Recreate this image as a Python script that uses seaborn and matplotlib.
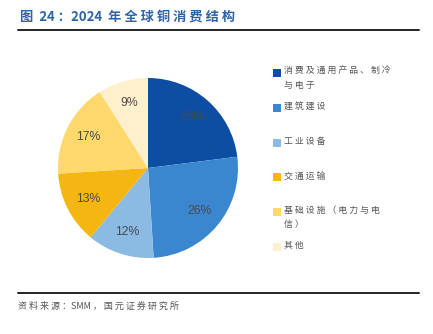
import matplotlib
matplotlib.use("Agg")
import matplotlib.pyplot as plt
from matplotlib.patches import Rectangle
from matplotlib.lines import Line2D
import seaborn as sns

sns.set_theme(style="white")
plt.rcParams['font.family'] = ['Noto Sans CJK SC', 'DejaVu Sans']

# 2024 global copper consumption by end use (%)
categories = ["消费及通用产品、制冷\n与电子", "建筑建设", "工业设备", "交通运输",
              "基础设施（电力与电\n信）", "其他"]
shares = [23, 26, 12, 13, 17, 9]
colors = ["#0d4ea3", "#3a87d0", "#8bbae3", "#f6b612", "#fdd86c", "#fff0cd"]

title = "图 24：2024 年全球铜消费结构"
source = "资料来源：SMM，国元证券研究所"


def spaced(s):
    """Open up the tracking of CJK text; runs of Latin letters and digits stay tight."""
    out_lines = []
    for line in s.split("\n"):
        out = ""
        for i, ch in enumerate(line):
            if ch == " ":
                out += "  "
                continue
            out += ch
            nxt = line[i + 1] if i + 1 < len(line) else None
            if nxt is None or nxt == " ":
                continue
            if ch.isascii() and nxt.isascii():
                continue
            if ch in "：，" and nxt.isascii():
                continue
            out += " "
        out_lines.append(out)
    return "\n".join(out_lines)


W, H = 433, 334
fig = plt.figure(figsize=(W / 100, H / 100), dpi=100)
fig.patch.set_facecolor("white")


def fx(px):
    return px / W


def fy(py):
    return 1 - py / H


# pie axes: centre (148,168), radius 90 px
r = 90
cx, cy = 148, 168
ax = fig.add_axes([fx(cx - r), fy(cy + r), 2 * r / W, 2 * r / H])
wedges, texts, autotexts = ax.pie(
    shares, colors=colors, startangle=90, counterclock=False,
    autopct=lambda p: f"{p:.0f}%", pctdistance=0.75, radius=1.0,
    wedgeprops=dict(linewidth=0),
    textprops=dict(color="#4a4a4a", fontsize=8.8, family=["Liberation Sans", "DejaVu Sans"]))
ax.set_xlim(-1, 1)
ax.set_ylim(-1, 1)
ax.set_aspect("equal")
ax.axis("off")

# title and rules
fig.text(fx(20), fy(17), spaced(title), color="#2e63a6", fontsize=9.5, fontweight="bold",
         va="center", ha="left")
fig.add_artist(Line2D([fx(18), fx(419)], [fy(30), fy(30)], color="#222222", lw=1.4))
fig.add_artist(Line2D([fx(18), fx(419)], [fy(293), fy(293)], color="#222222", lw=1.4))
fig.text(fx(18), fy(306), spaced(source), color="#555555", fontsize=6.5,
         va="center", ha="left")

# legend drawn beside the pie
y0, step = 73, 34.8
for i, (lab, col) in enumerate(zip(categories, colors)):
    y = y0 + step * i
    fig.add_artist(Rectangle((fx(273), fy(y + 4)), fx(8), 8 / H, facecolor=col,
                             edgecolor="none", transform=fig.transFigure))
    fig.text(fx(284), fy(y - 6), spaced(lab), color="#555555", fontsize=6.4, va="top",
             ha="left", linespacing=1.75)

fig.savefig("out.png", dpi=100, facecolor="white")
